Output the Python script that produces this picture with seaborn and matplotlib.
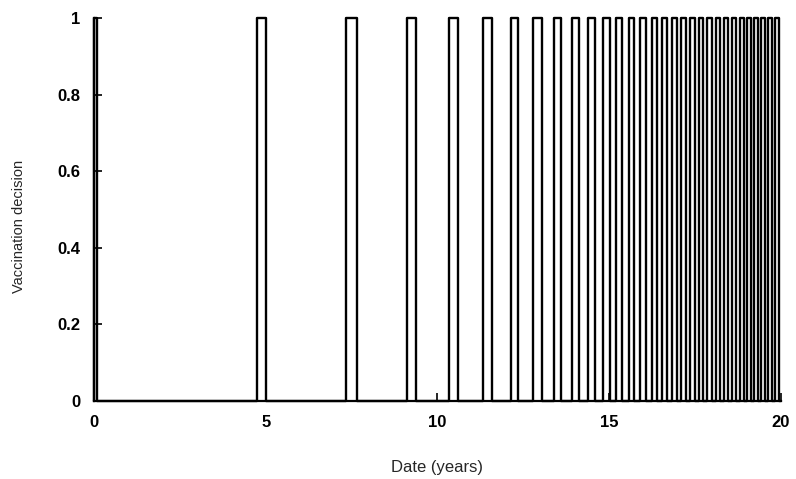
import numpy as np
import pandas as pd
import matplotlib
matplotlib.use("Agg")
import matplotlib.pyplot as plt
import seaborn as sns

# Pulse (vaccination = 1) intervals in years
pulse_start = [0.00, 4.75, 7.34, 9.11, 10.33, 11.32, 12.14, 12.78, 13.39, 13.92,
               14.38, 14.82, 15.20, 15.57, 15.90, 16.24, 16.54, 16.83, 17.09, 17.35,
               17.61, 17.85, 18.11, 18.34, 18.57, 18.81, 19.01, 19.21, 19.42, 19.62,
               19.83]
pulse_end = [0.09, 5.01, 7.66, 9.37, 10.60, 11.59, 12.34, 13.04, 13.60, 14.12,
             14.59, 15.02, 15.37, 15.72, 16.07, 16.39, 16.68, 16.97, 17.23, 17.50,
             17.73, 17.99, 18.22, 18.46, 18.69, 18.92, 19.13, 19.33, 19.53, 19.74,
             19.94]
x_ticks = [0, 5, 10, 15, 20]
y_ticks = [0, 0.2, 0.4, 0.6, 0.8, 1]
y_tick_labels = ["0", "0.2", "0.4", "0.6", "0.8", "1"]

# Build the step trace from the intervals
t, v = [], []
for s, e in zip(pulse_start, pulse_end):
    t += [s, s, e, e]
    v += [0, 1, 1, 0]
t.append(20.0)
v.append(0)
df = pd.DataFrame({"t": t, "v": v, "order": np.arange(len(t))})

sns.set_theme(style="ticks")
plt.rcParams["font.family"] = ["Liberation Sans", "DejaVu Sans"]

fig = plt.figure(figsize=(7.96, 4.79), dpi=100)
ax = fig.add_axes([0.118, 0.163, 0.863, 0.799])

sns.lineplot(data=df, x="t", y="v", sort=False, estimator=None, ax=ax,
             color="black", linewidth=1.7, clip_on=False)

ax.set_xlim(0, 20)
ax.set_ylim(0, 1)
ax.set_xticks(x_ticks)
ax.set_yticks(y_ticks)
ax.set_yticklabels(y_tick_labels)
for lab in ax.get_xticklabels() + ax.get_yticklabels():
    lab.set_fontweight("bold")
ax.tick_params(axis="both", direction="in", labelsize=12, colors="black",
               length=6, width=1.2)
ax.tick_params(axis="x", pad=10)
ax.tick_params(axis="y", pad=10)

sns.despine(ax=ax)
for sp in ["left", "bottom"]:
    ax.spines[sp].set_linewidth(1.6)
    ax.spines[sp].set_color("black")

ax.set_xlabel("Date (years)", fontsize=12, labelpad=22)
ax.set_ylabel("Vaccination decision", fontsize=10.5)
ax.yaxis.set_label_coords(-0.099, 0.457)

fig.savefig("out.png", dpi=100)
